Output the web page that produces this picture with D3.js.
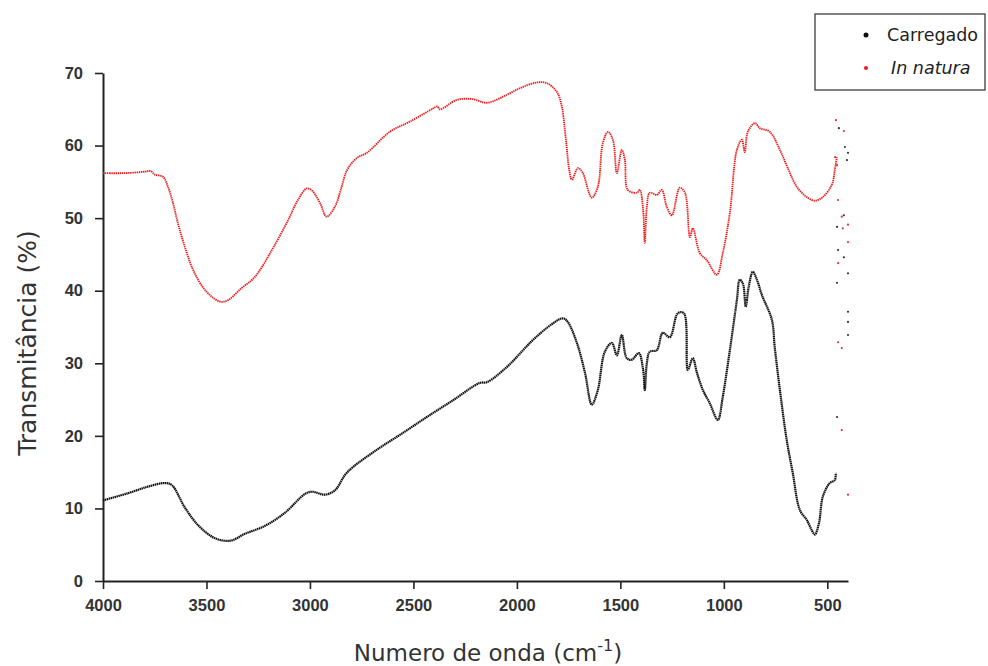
<!DOCTYPE html>
<html>
<head>
<meta charset="utf-8">
<script src="https://cdn.jsdelivr.net/npm/d3@7"></script>
<style>
  body { margin: 0; background: #fff; }
  svg { font-family: "DejaVu Sans", "Liberation Sans", Arial, sans-serif; }
</style>
</head>
<body>
<div id="chart"></div>
<script>
// Spectra: [wavenumber (cm-1), transmittance (%)]
const inNatura = [
  [4000, 56.2], [3900, 56.2], [3797, 56.4], [3770, 56.5], [3749, 56.0], [3710, 55.7],
  [3686, 54.3], [3662, 52.1], [3638, 49.3], [3604, 46.0], [3565, 42.9], [3507, 40.1],
  [3435, 38.5], [3396, 38.7], [3329, 40.4], [3266, 41.9], [3184, 45.6], [3106, 49.7],
  [3058, 52.5], [3015, 54.1], [2990, 53.8], [2950, 52.0], [2920, 50.2], [2879, 51.6],
  [2850, 54.0], [2821, 56.6], [2773, 58.3], [2725, 59.0], [2614, 61.9], [2517, 63.3],
  [2406, 65.1], [2385, 65.4], [2372, 65.0], [2290, 66.3], [2213, 66.4], [2145, 65.9],
  [2048, 67.0], [1986, 67.9], [1903, 68.7], [1855, 68.6], [1807, 67.4], [1783, 65.4],
  [1768, 62.1], [1758, 59.4], [1748, 56.8], [1734, 55.3], [1705, 56.9], [1681, 56.2],
  [1655, 53.8], [1638, 52.8], [1609, 54.3], [1585, 60.3], [1560, 61.9], [1536, 60.8],
  [1517, 56.2], [1493, 59.4], [1478, 58.0], [1464, 53.9], [1420, 53.5], [1406, 53.9],
  [1390, 51.1], [1382, 46.6], [1372, 51.5], [1358, 53.5], [1324, 53.2], [1300, 53.9],
  [1275, 51.5], [1251, 50.4], [1213, 54.2], [1188, 53.5], [1164, 47.4], [1150, 48.6],
  [1116, 45.2], [1082, 44.2], [1034, 42.2], [1005, 45.2], [971, 50.7], [937, 59.4],
  [913, 60.8], [899, 59.1], [884, 61.9], [850, 63.1], [826, 62.4], [778, 61.9],
  [729, 59.4], [691, 56.9], [647, 54.3], [599, 52.9], [560, 52.4], [522, 52.9],
  [478, 54.6], [464, 56.6], [454, 58.4]
];

const carregado = [
  [4000, 11.1], [3879, 12.1], [3783, 13.0], [3700, 13.5], [3667, 13.2], [3604, 10.1],
  [3541, 7.7], [3473, 6.1], [3425, 5.6], [3377, 5.6], [3314, 6.5], [3217, 7.6],
  [3121, 9.4], [3024, 12.0], [2990, 12.3], [2928, 11.9], [2879, 12.5], [2831, 14.6],
  [2792, 15.7], [2676, 18.1], [2551, 20.4], [2435, 22.6], [2309, 24.9], [2179, 27.3],
  [2145, 27.4], [2048, 29.5], [1923, 33.2], [1826, 35.5], [1778, 36.2], [1754, 35.7],
  [1710, 32.8], [1671, 28.7], [1638, 24.3], [1609, 26.3], [1575, 31.6], [1541, 32.8],
  [1517, 31.1], [1493, 33.9], [1469, 30.7], [1444, 30.5], [1411, 31.4], [1390, 29.1],
  [1382, 26.3], [1372, 30.0], [1358, 31.6], [1324, 31.8], [1295, 34.2], [1261, 33.6],
  [1222, 36.9], [1193, 36.9], [1174, 29.1], [1150, 30.7], [1130, 28.7], [1101, 26.3],
  [1068, 24.5], [1029, 22.2], [1005, 25.4], [971, 31.8], [937, 38.7], [923, 41.5],
  [908, 41.0], [894, 37.8], [880, 40.5], [860, 42.6], [840, 41.5], [816, 39.4],
  [768, 36.0], [754, 32.2], [729, 26.3], [696, 19.4], [667, 14.9], [633, 9.8],
  [599, 8.4], [575, 7.0], [560, 6.4], [540, 8.0], [522, 11.6], [488, 13.5],
  [464, 13.9], [459, 14.9]
];

// isolated points at the low-wavenumber end
const inNaturaLoose = [
  [458, 63.5], [420, 62.0], [462, 58.4], [453, 57.3], [448, 52.5], [430, 50.2],
  [400, 49.1], [425, 48.6], [400, 46.7], [448, 43.8], [448, 32.9], [430, 32.1],
  [430, 20.8], [400, 11.9]
];
const carregadoLoose = [
  [444, 62.4], [415, 59.8], [400, 59.0], [405, 58.0], [420, 50.4], [453, 48.8],
  [448, 45.6], [420, 44.6], [400, 42.4], [453, 41.1], [400, 37.1], [400, 35.7],
  [400, 33.9], [453, 22.6]
];

const xMajor = [4000, 3500, 3000, 2500, 2000, 1500, 1000, 500];
const xMinor = [3750, 3250, 2750, 2250, 1750, 1250, 750];
const yMajor = [0, 10, 20, 30, 40, 50, 60, 70];
const yMinor = [5, 15, 25, 35, 45, 55, 65];

const W = 988, H = 666;
const svg = d3.select("#chart").append("svg")
  .attr("width", W)
  .attr("height", H);

const x = d3.scaleLinear().domain([4000, 400]).range([103, 848]);
const y = d3.scaleLinear().domain([0, 70]).range([581, 73]);

// Axes
const axisColor = "#222";
const gx = svg.append("g").attr("transform", `translate(0,${y(0)})`);
gx.call(d3.axisBottom(x).tickValues(xMinor).tickFormat("").tickSize(5).tickSizeOuter(0));
gx.call(d3.axisBottom(x).tickValues(xMajor).tickFormat(d3.format("d"))
  .tickSize(8).tickSizeOuter(0).tickPadding(10));

const gy = svg.append("g").attr("transform", `translate(${x(4000)},0)`);
gy.call(d3.axisLeft(y).tickValues(yMinor).tickFormat("").tickSize(5).tickSizeOuter(0));
gy.call(d3.axisLeft(y).tickValues(yMajor).tickSize(8).tickSizeOuter(0).tickPadding(12));

svg.selectAll(".domain").attr("stroke", axisColor).attr("stroke-width", 2);
svg.selectAll(".tick line").attr("stroke", axisColor).attr("stroke-width", 1.6);
svg.selectAll(".tick text")
  .attr("fill", "#333")
  .style("font-size", "16.5px")
  .style("font-weight", "bold");

// Axis titles
svg.append("text")
  .attr("transform", "rotate(-90)")
  .attr("x", -343)
  .attr("y", 36)
  .attr("text-anchor", "middle")
  .attr("fill", "#333")
  .style("font-size", "25px")
  .text("Transmitância (%)");

const xt = svg.append("text")
  .attr("x", 488)
  .attr("y", 661)
  .attr("text-anchor", "middle")
  .attr("fill", "#333")
  .style("font-size", "23px");
xt.append("tspan").text("Numero de onda (cm");
xt.append("tspan").attr("dy", -10).style("font-size", "16px").text("-1");
xt.append("tspan").attr("dy", 10).text(")");

// Spectra drawn as dense dotted traces
const line = d3.line()
  .x(d => x(d[0]))
  .y(d => y(d[1]))
  .curve(d3.curveCatmullRom.alpha(0.5));

svg.append("path")
  .datum(inNatura)
  .attr("fill", "none")
  .attr("stroke", "#f01818")
  .attr("stroke-width", 1.8)
  .attr("stroke-dasharray", "1.4 0.7")
  .attr("d", line);

svg.append("path")
  .datum(carregado)
  .attr("fill", "none")
  .attr("stroke", "#111")
  .attr("stroke-width", 2.2)
  .attr("stroke-dasharray", "1.5 0.5")
  .attr("d", line);

svg.selectAll(".loose-red")
  .data(inNaturaLoose)
  .enter().append("circle")
  .attr("class", "loose-red")
  .attr("cx", d => x(d[0]))
  .attr("cy", d => y(d[1]))
  .attr("r", 1.1)
  .attr("fill", "#f03030");

svg.selectAll(".loose-black")
  .data(carregadoLoose)
  .enter().append("circle")
  .attr("class", "loose-black")
  .attr("cx", d => x(d[0]))
  .attr("cy", d => y(d[1]))
  .attr("r", 1.1)
  .attr("fill", "#333");

// Legend
const legend = svg.append("g");
legend.append("rect")
  .attr("x", 815).attr("y", 14)
  .attr("width", 170).attr("height", 76)
  .attr("fill", "#fff")
  .attr("stroke", "#555")
  .attr("stroke-width", 1.5);

const legendData = [
  { label: "Carregado", color: "#111", r: 2.5, italic: false, ty: 41, tx: 887 },
  { label: "In natura", color: "#f01818", r: 2, italic: true, ty: 74, tx: 891 }
];

legend.selectAll("circle")
  .data(legendData)
  .enter().append("circle")
  .attr("cx", 866)
  .attr("cy", d => d.ty - 6)
  .attr("r", d => d.r)
  .attr("fill", d => d.color);

legend.selectAll("text")
  .data(legendData)
  .enter().append("text")
  .attr("x", d => d.tx)
  .attr("y", d => d.ty)
  .attr("fill", "#222")
  .style("font-size", "17.5px")
  .style("font-style", d => d.italic ? "italic" : "normal")
  .text(d => d.label);
</script>
</body>
</html>
